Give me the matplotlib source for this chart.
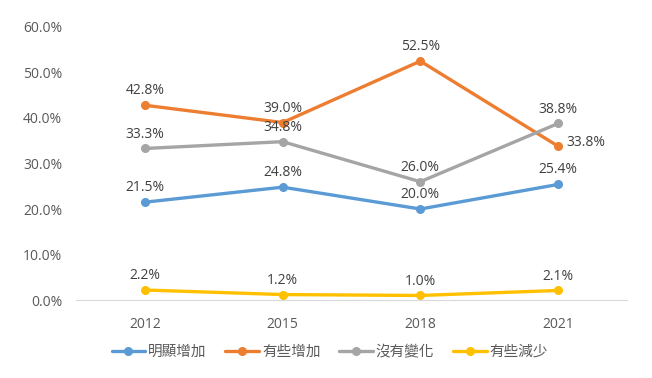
import matplotlib
matplotlib.use("Agg")
import matplotlib.pyplot as plt

plt.rcParams['font.family'] = ['Open Sans', 'Noto Sans CJK TC', 'DejaVu Sans']

years = ["2012", "2015", "2018", "2021"]
series_names = ["明顯增加", "有些增加", "沒有變化", "有些減少"]
s_obvious_up = [21.5, 24.8, 20.0, 25.4]
s_some_up = [42.8, 39.0, 52.5, 33.8]
s_no_change = [33.3, 34.8, 26.0, 38.8]
s_some_down = [2.2, 1.2, 1.0, 2.1]
y_ticks = [0, 10, 20, 30, 40, 50, 60]

colors = ["#5B9BD5", "#ED7D31", "#A5A5A5", "#FFC000"]
all_series = [s_obvious_up, s_some_up, s_no_change, s_some_down]

fig = plt.figure(figsize=(6.52, 3.78), dpi=100)
ax = fig.add_axes([0.1166, 0.2063, 0.845, 0.7223])
x = list(range(len(years)))

for name, vals, c in zip(series_names, all_series, colors):
    ax.plot(x, vals, color=c, lw=2.4, marker='o', ms=5.5, label=name,
            solid_capstyle='round')
    for i, v in enumerate(vals):
        if name == "有些增加" and i == 3:
            ax.annotate(f"{v:.1f}%", (i, v), xytext=(6, 3), textcoords='offset points',
                        ha='left', va='center', fontsize=10, color='#404040')
        else:
            ax.annotate(f"{v:.1f}%", (i, v), xytext=(0, 5), textcoords='offset points',
                        ha='center', va='bottom', fontsize=10, color='#404040')

ax.set_xlim(-0.5, 3.5)
ax.set_ylim(0, 60)
ax.set_xticks(x)
ax.set_xticklabels(years)
ax.set_yticks(y_ticks)
ax.set_yticklabels([f"{t:.1f}%" for t in y_ticks])
for s in ['top', 'right', 'left']:
    ax.spines[s].set_visible(False)
ax.spines['bottom'].set_color('#D9D9D9')
ax.tick_params(axis='both', length=0, labelsize=10, colors='#595959')
ax.tick_params(axis='x', pad=12)
ax.tick_params(axis='y', pad=10)

leg = fig.legend(loc='center', bbox_to_anchor=(0.506, 0.069), ncol=4, frameon=False,
                 handlelength=2.3, columnspacing=1.3, handletextpad=0.2,
                 prop={'family': ['Noto Sans CJK TC', 'DejaVu Sans'], 'size': 10.5})
for t in leg.get_texts():
    t.set_color('#595959')

fig.savefig("out.png", dpi=100)
